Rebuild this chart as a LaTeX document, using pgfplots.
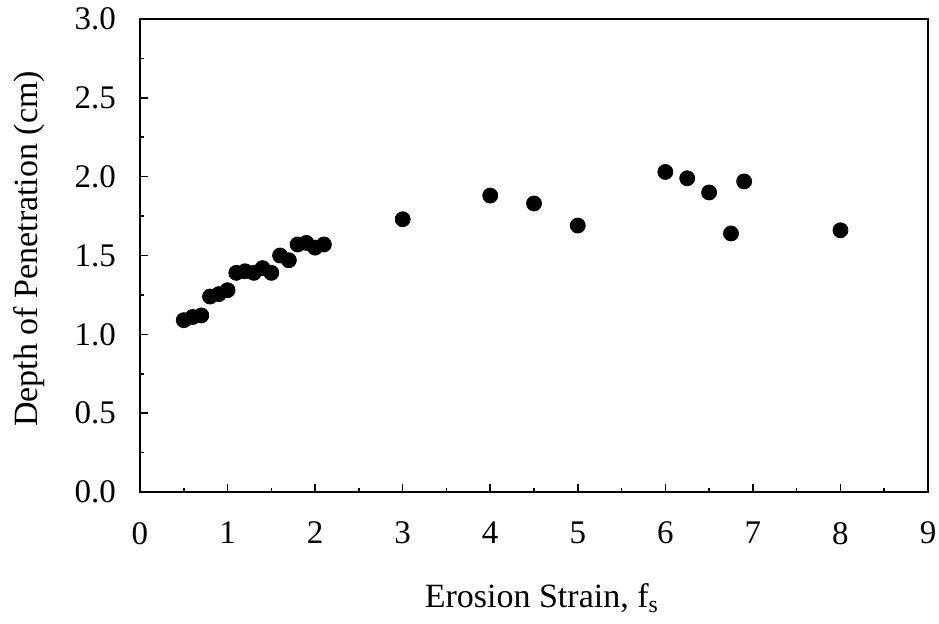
\documentclass[border=0pt]{standalone}
\usepackage{fontspec}
\setmainfont{Liberation Serif}
\usepackage{pgfplots}
\pgfplotsset{compat=1.18}
\newcommand\tickfont{\fontsize{16.5pt}{19pt}\selectfont}
\newcommand\labelfont{\fontsize{17pt}{20pt}\selectfont}

\begin{document}
\begin{tikzpicture}
  \begin{axis}[
      name=ax,
      scale only axis,
      width=394pt,
      height=236.5pt,
      xmin=0, xmax=9,
      ymin=0, ymax=3,
      xtick={0,1,...,9},
      ytick={0,0.5,...,3.0},
      minor x tick num=1,
      minor y tick num=1,
      tick pos=left,
      tick align=inside,
      major tick length=4pt,
      minor tick length=2pt,
      axis line style={line width=1pt},
      every tick/.style={black, line width=0.8pt},
      /pgf/number format/assume math mode=true,
      yticklabel style={/pgf/number format/fixed, /pgf/number format/fixed zerofill, /pgf/number format/precision=1},
      every tick label/.append style={font=\tickfont},
      xticklabel style={yshift=-11.5pt},
      yticklabel style={xshift=-8.5pt},
      xlabel={Erosion Strain, f\textsubscript{s}},
      ylabel={Depth of Penetration (cm)},
      label style={font=\labelfont},
      xlabel style={at={(axis description cs:0.51,0)}, anchor=center, yshift=-53pt},
      ylabel style={at={(axis description cs:0,0.514)}, anchor=center, yshift=55.5pt},
    ]
    \addplot[only marks, mark=*, mark size=3.75pt, black] coordinates {
        (0.5,1.09) (0.6,1.11) (0.7,1.12) (0.8,1.24) (0.9,1.255) (1.0,1.28)
        (1.1,1.39) (1.2,1.40) (1.3,1.39) (1.4,1.42) (1.5,1.39)
        (1.6,1.50) (1.7,1.47) (1.8,1.57) (1.9,1.58) (2.0,1.55) (2.1,1.57)
        (3.0,1.73) (4.0,1.88) (4.5,1.83) (5.0,1.69)
        (6.0,2.03) (6.25,1.99) (6.5,1.90) (6.75,1.64) (6.9,1.97) (8.0,1.66)
      };
  \end{axis}
  \pgfresetboundingbox
  \path[use as bounding box] ([shift={(-70pt,-65.5pt)}]ax.south west) rectangle ([shift={(5.5pt,9.5pt)}]ax.north east);
\end{tikzpicture}
\end{document}
